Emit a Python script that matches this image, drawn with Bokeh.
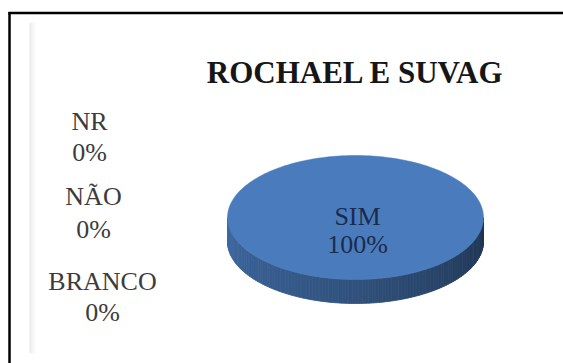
import numpy as np
from bokeh.plotting import figure
from bokeh.core.properties import value
from bokeh.embed import file_html
from bokeh.resources import INLINE

# ---------------- data ----------------
title = "ROCHAEL E SUVAG"
categories = ["NR", "NÃO", "BRANCO", "SIM"]
values = [0, 0, 0, 100]
pct_labels = [f"{round(100 * v / sum(values))}%" for v in values]

# ---------------- styles / layout ----------------
W, H = 563, 363
slice_colors = ["#9BBB59", "#C0504D", "#8064A2", "#4A7CBD"]
label_color = "#3c3c3c"
inner_color = "#1b2b4c"
serif = value("Liberation Serif")

# pie geometry (pixels)
CX, CY, RX, RY, DEPTH = 355, 217, 128, 62, 24

# label anchors (x centre, baseline of name, baseline of pct)
outside_pos = {"NR": (89, 121, 152), "NÃO": (93, 196, 229), "BRANCO": (102, 281, 312)}
inside_pos = {"SIM": (357, 216, 244)}

p = figure(width=W, height=H, x_range=(0, W), y_range=(H, 0),
           x_axis_location=None, y_axis_location=None,
           toolbar_location=None, output_backend="svg", min_border=0,
           outline_line_color=None, background_fill_color="white",
           border_fill_color="white")
p.grid.visible = False

# frame decoration
p.segment(x0=[9, 8], y0=[11.5, 12.5], x1=[9, W], y1=[H, 12.5],
          line_color="black", line_width=2.5)
band_cols = ["#e4e4e4", "#e9e9e9", "#eeeeee", "#f3f3f3", "#f7f7f7", "#fbfbfb"]
p.quad(left=[29 + i for i in range(6)], right=[30 + i for i in range(6)],
       top=[22] * 6, bottom=[353] * 6, fill_color=band_cols, line_color=None)

# ---------------- pie ----------------
total = sum(values)
fracs = [v / total for v in values]
starts = np.cumsum([0] + fracs[:-1])
ends = np.cumsum(fracs)
theta0 = -np.pi / 2  # start at 12 o'clock, clockwise on screen


def slice_of(theta):
    t = ((theta - theta0) % (2 * np.pi)) / (2 * np.pi)
    for i, (s, e) in enumerate(zip(starts, ends)):
        if s <= t < e and fracs[i] > 0:
            return i
    return len(values) - 1


def side_rgb(theta, base):
    # darker on the right, lighter on the left
    f_right, f_mid, f_left = 0.42, 0.66, 0.86
    u = theta / np.pi
    f = f_right + (f_mid - f_right) * (u / 0.5) if u < 0.5 else f_mid + (f_left - f_mid) * ((u - 0.5) / 0.5)
    r, g, b = int(base[1:3], 16), int(base[3:5], 16), int(base[5:7], 16)
    return "#%02x%02x%02x" % (int(r * f), int(g * f), int(b * f))


# side strips (front half)
n = 120
th = np.linspace(0, np.pi, n + 1)
xs, ys, cols = [], [], []
for a, b in zip(th[:-1], th[1:]):
    xa, xb = CX + RX * np.cos(a), CX + RX * np.cos(b)
    ya, yb = CY + RY * np.sin(a), CY + RY * np.sin(b)
    xs.append([xa, xb, xb, xa])
    ys.append([ya, yb, yb + DEPTH, ya + DEPTH])
    idx = slice_of((a + b) / 2)
    cols.append(side_rgb((a + b) / 2, slice_colors[idx]))
p.patches(xs=xs, ys=ys, fill_color=cols, line_color=cols, line_width=0.8)

# top faces
for i, f in enumerate(fracs):
    if f <= 0:
        continue
    t = np.linspace(theta0 + 2 * np.pi * starts[i], theta0 + 2 * np.pi * ends[i], 240)
    px = list(CX + RX * np.cos(t))
    py = list(CY + RY * np.sin(t))
    if f < 1:
        px = [CX] + px
        py = [CY] + py
    p.patch(px, py, fill_color=slice_colors[i], line_color=slice_colors[i], line_width=0.5)

# ---------------- texts ----------------
p.text(x=[355], y=[72], text=[title], text_font=serif, text_font_style="bold",
       text_font_size="31px", text_align="center", text_baseline="alphabetic",
       text_color="#161616")

lx, ly, lt = [], [], []
ix, iy, it = [], [], []
for c, pc in zip(categories, pct_labels):
    if c in outside_pos:
        x, y1, y2 = outside_pos[c]
        lx += [x, x]; ly += [y1, y2]; lt += [c, pc]
    else:
        x, y1, y2 = inside_pos[c]
        ix += [x, x]; iy += [y1, y2]; it += [c, pc]

p.text(x=lx, y=ly, text=lt, text_font=serif, text_font_size="26px",
       text_align="center", text_baseline="alphabetic", text_color=label_color)
p.text(x=ix, y=iy, text=it, text_font=serif, text_font_size="26px",
       text_align="center", text_baseline="alphabetic", text_color=inner_color)

open("out.html", "w").write(file_html(p, INLINE))
